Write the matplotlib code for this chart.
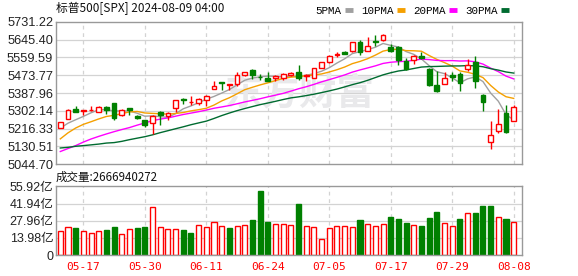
import matplotlib
matplotlib.use("Agg")
import matplotlib.pyplot as plt
from matplotlib.lines import Line2D
import numpy as np

plt.rcParams['font.family'] = ['Noto Sans CJK SC', 'DejaVu Sans']

dates = ["05-14", "05-15", "05-16", "05-17", "05-20", "05-21", "05-22", "05-23", "05-24", "05-28",
         "05-29", "05-30", "05-31", "06-03", "06-04", "06-05", "06-06", "06-07", "06-10", "06-11",
         "06-12", "06-13", "06-14", "06-17", "06-18", "06-20", "06-21", "06-24", "06-25", "06-26",
         "06-27", "06-28", "07-01", "07-02", "07-03", "07-05", "07-08", "07-09", "07-10", "07-11",
         "07-12", "07-15", "07-16", "07-17", "07-18", "07-19", "07-22", "07-23", "07-24", "07-25",
         "07-26", "07-29", "07-30", "07-31", "08-01", "08-02", "08-05", "08-06", "08-07", "08-08"]

opens = [5221.10, 5263.26, 5310.07, 5303.10, 5305.35, 5298.69, 5319.28, 5340.26, 5281.45, 5315.91,
         5278.73, 5259.77, 5243.21, 5297.15, 5278.24, 5314.48, 5357.80, 5343.81, 5341.22, 5353.00,
         5409.13, 5441.93, 5424.08, 5431.11, 5476.15, 5499.99, 5466.77, 5459.58, 5460.73, 5460.71,
         5473.59, 5488.48, 5471.08, 5461.84, 5507.44, 5537.91, 5572.75, 5584.24, 5591.26, 5635.21,
         5590.76, 5638.16, 5644.09, 5610.23, 5608.56, 5543.37, 5544.54, 5565.30, 5505.84, 5428.70,
         5433.67, 5476.55, 5478.73, 5505.59, 5537.84, 5376.63, 5151.14, 5206.42, 5293.13, 5252.57]
highs = [5250.37, 5311.76, 5325.49, 5305.45, 5325.32, 5324.32, 5323.18, 5341.88, 5311.65, 5315.91,
         5282.27, 5260.21, 5280.33, 5302.11, 5298.80, 5354.16, 5362.35, 5375.08, 5365.79, 5375.95,
         5447.25, 5441.93, 5432.39, 5488.50, 5490.38, 5505.53, 5478.31, 5490.66, 5472.88, 5483.14,
         5490.81, 5523.64, 5479.55, 5509.69, 5539.27, 5570.33, 5583.11, 5590.75, 5635.39, 5642.45,
         5655.56, 5666.94, 5669.67, 5622.49, 5614.05, 5557.50, 5570.36, 5585.34, 5508.04, 5491.59,
         5488.32, 5487.74, 5489.46, 5551.51, 5566.16, 5383.89, 5250.89, 5312.34, 5330.64, 5328.03]
lows = [5217.98, 5263.26, 5296.19, 5283.59, 5302.40, 5297.87, 5286.01, 5256.93, 5278.39, 5280.89,
        5262.70, 5222.10, 5191.68, 5234.32, 5257.63, 5297.64, 5335.36, 5331.33, 5331.52, 5327.25,
        5409.13, 5402.51, 5403.75, 5420.40, 5471.32, 5455.56, 5452.03, 5447.59, 5446.56, 5451.87,
        5467.54, 5451.12, 5446.53, 5458.43, 5507.42, 5531.63, 5562.51, 5574.57, 5586.44, 5571.42,
        5590.44, 5614.75, 5639.02, 5584.81, 5522.81, 5497.04, 5529.04, 5550.90, 5419.98, 5390.95,
        5430.70, 5444.44, 5398.08, 5493.75, 5410.42, 5302.03, 5119.26, 5193.56, 5195.54, 5252.57]
closes = [5246.68, 5308.15, 5297.10, 5303.27, 5308.13, 5321.41, 5307.01, 5267.84, 5304.72, 5306.04,
          5266.95, 5235.48, 5277.51, 5283.40, 5291.34, 5354.03, 5352.96, 5346.99, 5360.79, 5375.32,
          5421.03, 5433.74, 5431.60, 5473.23, 5487.03, 5473.17, 5464.62, 5447.87, 5469.30, 5477.90,
          5482.87, 5460.48, 5475.09, 5509.01, 5537.02, 5567.19, 5572.85, 5576.98, 5633.91, 5584.54,
          5615.35, 5631.22, 5667.20, 5588.27, 5544.59, 5505.00, 5564.41, 5555.74, 5427.13, 5399.22,
          5459.10, 5463.54, 5436.44, 5522.30, 5446.68, 5346.56, 5186.33, 5240.03, 5199.50, 5319.31]

ma5 = [5218.5, 5242.6, 5259.2, 5275.3, 5292.7, 5307.6, 5307.4, 5301.5, 5301.8, 5301.4,
       5290.5, 5276.2, 5278.1, 5273.9, 5270.9, 5288.4, 5311.9, 5325.7, 5341.2, 5358.0,
       5371.4, 5387.6, 5404.5, 5427.0, 5449.3, 5459.8, 5465.9, 5469.2, 5468.4, 5466.6,
       5468.5, 5467.7, 5473.1, 5481.1, 5492.9, 5509.8, 5532.2, 5552.6, 5577.6, 5587.1,
       5596.7, 5608.4, 5626.4, 5617.3, 5609.3, 5587.3, 5573.9, 5551.6, 5519.4, 5490.3,
       5481.1, 5461.0, 5437.1, 5456.1, 5465.6, 5443.1, 5387.7, 5348.4, 5283.8, 5258.3]
ma10 = [5167.1, 5196.1, 5219.4, 5237.0, 5249.7, 5263.1, 5275.0, 5280.4, 5288.6, 5297.0,
        5299.1, 5291.8, 5289.8, 5287.9, 5286.2, 5289.4, 5294.0, 5301.9, 5307.6, 5314.5,
        5329.9, 5349.7, 5365.1, 5384.1, 5403.7, 5415.6, 5426.8, 5436.8, 5447.7, 5458.0,
        5464.1, 5466.8, 5471.2, 5474.7, 5479.7, 5489.1, 5500.0, 5512.9, 5529.3, 5540.0,
        5553.2, 5570.3, 5589.5, 5597.5, 5598.2, 5592.0, 5591.2, 5589.0, 5568.4, 5549.8,
        5534.2, 5517.4, 5494.3, 5487.8, 5478.0, 5462.1, 5424.3, 5392.7, 5370.0, 5362.0]
ma20 = [5106.2, 5120.5, 5134.8, 5151.6, 5166.5, 5179.1, 5190.8, 5201.8, 5212.0, 5221.5,
        5233.1, 5244.0, 5254.6, 5262.4, 5267.9, 5276.3, 5284.5, 5291.2, 5298.1, 5305.8,
        5314.5, 5320.8, 5327.5, 5336.0, 5344.9, 5352.5, 5360.4, 5369.4, 5377.6, 5386.2,
        5397.0, 5408.3, 5418.1, 5429.4, 5441.7, 5452.4, 5463.4, 5474.9, 5488.5, 5499.0,
        5508.7, 5518.6, 5530.3, 5536.1, 5539.0, 5540.6, 5545.6, 5551.0, 5548.8, 5544.9,
        5543.7, 5543.9, 5541.9, 5542.6, 5538.1, 5527.1, 5507.7, 5490.9, 5469.2, 5455.9]
ma30 = [5123.2, 5126.4, 5131.4, 5134.7, 5138.3, 5142.0, 5146.9, 5149.2, 5155.2, 5163.3,
        5170.5, 5177.6, 5186.5, 5197.0, 5206.4, 5215.9, 5225.2, 5235.2, 5243.9, 5252.5,
        5265.4, 5279.2, 5291.5, 5303.0, 5313.2, 5322.7, 5331.9, 5339.7, 5347.9, 5356.5,
        5364.4, 5369.4, 5375.4, 5382.2, 5389.9, 5398.1, 5406.9, 5417.2, 5428.2, 5437.5,
        5449.1, 5462.3, 5475.3, 5485.4, 5493.9, 5498.9, 5506.0, 5512.9, 5515.1, 5515.9,
        5517.2, 5518.2, 5518.3, 5520.0, 5518.6, 5514.4, 5505.1, 5498.2, 5489.2, 5483.9]

# 成交量, 单位: 亿
volumes = [19.6, 22.6, 22.1, 19.6, 18.0, 19.6, 20.4, 22.9, 17.2, 21.2,
           22.1, 22.9, 39.1, 22.6, 21.1, 21.0, 20.4, 18.0, 24.4, 22.9,
           26.7, 23.6, 22.1, 23.7, 24.5, 28.6, 52.1, 26.9, 25.3, 25.3,
           24.5, 41.5, 23.7, 22.6, 12.9, 21.8, 23.7, 23.7, 22.6, 28.6,
           25.3, 23.7, 25.3, 31.0, 29.4, 26.4, 24.5, 23.7, 30.2, 35.1,
           26.1, 23.7, 29.4, 34.2, 34.2, 39.9, 39.9, 31.0, 29.4, 26.67]
vol_dir = "RRGRRRGGRRGGRRRRGGRRRRGRRGGGRRRGRRRRRRRGRRRGGGRGGGRRGRGGGRGR"

tick_dates = ["05-17", "05-30", "06-11", "06-24", "07-05", "07-17", "07-29", "08-08"]
price_ticks = [5044.70, 5130.51, 5216.33, 5302.14, 5387.96, 5473.77, 5559.59, 5645.40, 5731.22]
vol_ticks = [0, 13.98, 27.96, 41.94, 55.92]

RED = '#ff0000'
GREEN = '#008000'
GRID = '#d3d3d3'
FRAME = '#999999'

x = np.arange(len(dates))
xt = [dates.index(d) for d in tick_dates]

fig = plt.figure(figsize=(5.78, 2.76), dpi=100)
ax = fig.add_axes([56 / 578, 1 - 164.3 / 276, 466 / 578, 142.6 / 276])
axv = fig.add_axes([56 / 578, 1 - 255.2 / 276, 466 / 578, 68.9 / 276])

for a in (ax, axv):
    a.set_xlim(-0.56, len(dates) + 0.08)
    for s in a.spines.values():
        s.set_color(FRAME)
        s.set_linewidth(1.0)
    a.tick_params(length=0, pad=2)
    a.set_xticks(xt)
    for xi in xt:
        a.axvline(xi, color=GRID, lw=0.9, ls=(0, (3, 3)), zorder=0)

# K线
ax.set_ylim(price_ticks[0], price_ticks[-1])
ax.set_yticks(price_ticks)
ax.set_yticklabels([f"{v:.2f}" for v in price_ticks], family=['Liberation Sans'], fontsize=9.2, color='#222222')
for v in price_ticks[1:-1]:
    ax.axhline(v, color=GRID, lw=0.9, zorder=0)
ax.set_xticklabels([])

ax.text(0.524, 0.49, "东方财富", transform=ax.transAxes, ha='center', va='center',
        fontsize=27, fontweight='bold', color='#e9e9eb', zorder=0)

up = np.array(closes) >= np.array(opens)
for i in range(len(dates)):
    c = RED if up[i] else GREEN
    ax.vlines(x[i], lows[i], highs[i], color=c, lw=1, zorder=2)
    lo, hi = min(opens[i], closes[i]), max(opens[i], closes[i])
    ax.bar(x[i], max(hi - lo, 0.8), bottom=lo, width=0.62,
           facecolor='white' if up[i] else GREEN, edgecolor=c, lw=1, zorder=3)

ma_cols = ['#a0a0a0', '#f5a000', '#ff00ff', '#006b30']
for ma, c in zip([ma5, ma10, ma20, ma30], ma_cols):
    ax.plot(x, ma, color=c, lw=1, zorder=1.5)

handles = [Line2D([], [], color=c, lw=3.5, solid_capstyle='butt') for c in ma_cols]
ax.legend(handles, ["5PMA", "10PMA", "20PMA", "30PMA"], ncol=4, loc='lower right',
          bbox_to_anchor=(0.985, 0.995), frameon=False, markerfirst=False,
          handlelength=0.7, handletextpad=0.3, columnspacing=0.8, borderpad=0.1,
          prop={'family': ['Liberation Mono', 'Noto Sans CJK SC'], 'size': 7.8})

fig.text(56 / 578, 1 - 8.5 / 276, "标普500[SPX] 2024-08-09 04:00", va='center', ha='left',
         fontsize=8.5, color='#111111')
fig.text(56 / 578, 1 - 177 / 276, "成交量:2666940272", va='center', ha='left',
         fontsize=8.3, color='#111111')

# 成交量
axv.set_ylim(0, vol_ticks[-1])
axv.set_yticks(vol_ticks)
axv.set_yticklabels([f"{v:.2f}亿" if v else "0" for v in vol_ticks],
                    family=['Liberation Sans', 'Noto Sans CJK SC'], fontsize=9, color='#222222')
for v in vol_ticks[1:-1]:
    axv.axhline(v, color=GRID, lw=0.9, zorder=0)
vcol = [RED if d == 'R' else GREEN for d in vol_dir]
axv.bar(x, volumes, width=0.66, facecolor=['white' if d == 'R' else GREEN for d in vol_dir],
        edgecolor=vcol, lw=1, zorder=2)
axv.set_xticklabels(tick_dates, color=RED, fontsize=8, family=['DejaVu Sans Mono'])
axv.tick_params(axis='x', pad=5)

fig.savefig("out.png", dpi=100)
